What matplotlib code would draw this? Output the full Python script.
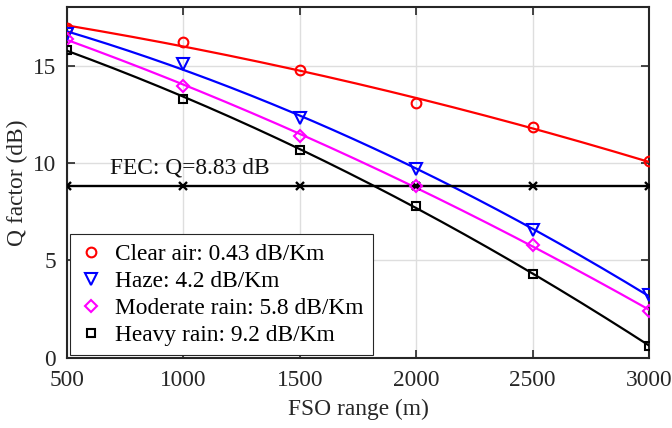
import numpy as np
import matplotlib
matplotlib.use("Agg")
import matplotlib.pyplot as plt

plt.rcParams['font.family'] = ['Liberation Serif', 'DejaVu Serif']
plt.rcParams['mathtext.fontset'] = 'stix'

ranges = [500, 1000, 1500, 2000, 2500, 3000]
clear_air = [16.93, 16.20, 14.79, 13.08, 11.85, 10.08]
haze = [16.60, 15.10, 12.30, 9.69, 6.54, 3.24]
moderate_rain = [16.37, 13.97, 11.37, 8.83, 5.80, 2.41]
heavy_rain = [15.82, 13.29, 10.68, 7.81, 4.31, 0.62]
fec = [8.83] * 6

labels = ["Clear air: 0.43 dB/Km", "Haze: 4.2 dB/Km",
          "Moderate rain: 5.8 dB/Km", "Heavy rain: 9.2 dB/Km"]
series = [clear_air, haze, moderate_rain, heavy_rain]
colors = ['#ff0000', '#0000ff', '#ff00ff', '#000000']
markers = ['o', 'v', 'D', 's']
msizes = [7, 8, 6, 6]

FS = 16.8

fig = plt.figure(figsize=(6.72, 4.28), dpi=100)
ax = fig.add_axes([0.0997, 0.1636, 0.8661, 0.82])

x = np.array(ranges, dtype=float)
xs = np.linspace(500, 3000, 200)
handles = []
for vals, c, m, ms, lab in zip(series, colors, markers, msizes, labels):
    coef = np.polyfit(x, np.array(vals), 2)
    ax.plot(xs, np.polyval(coef, xs), color=c, lw=1.6, zorder=3)
    h, = ax.plot(x, vals, linestyle='none', marker=m, ms=ms, mfc='none',
                 mec=c, mew=1.5, color=c, label=lab, zorder=4)
    handles.append(h)

ax.plot(x, fec, color='black', lw=1.7, marker='x', ms=6, mew=1.7, zorder=3)
ax.text(683, 9.45, "FEC: Q=8.83 dB", fontsize=FS, color='#111111')

ax.set_xlim(500, 3000)
ax.set_ylim(0, 18)
ax.set_xticks(ranges)
ax.set_yticks([0, 5, 10, 15])
ax.grid(True, color='#dedede', lw=1.0)
ax.set_axisbelow(True)
ax.tick_params(direction='in', top=True, right=True, length=6, width=1.2,
               labelsize=FS, colors='#262626')
ax.tick_params(axis='x', pad=9)
ax.tick_params(axis='y', pad=8)
for s in ax.spines.values():
    s.set_linewidth(1.5)
    s.set_color('#262626')
ax.set_xlabel("FSO range (m)", fontsize=FS, color='#262626', labelpad=5)
ax.set_ylabel("Q factor (dB)", fontsize=FS, color='#262626', labelpad=3)

leg = ax.legend(handles=handles, loc='lower left', bbox_to_anchor=(0.006, 0.008),
                fontsize=FS, frameon=True, fancybox=False, borderaxespad=0,
                handletextpad=0.5, labelspacing=0.24, handlelength=1.0,
                borderpad=0.4)
leg.get_frame().set_edgecolor('#262626')
leg.get_frame().set_linewidth(0.8)
leg.get_frame().set_alpha(1)

fig.savefig("out.png", dpi=100)
